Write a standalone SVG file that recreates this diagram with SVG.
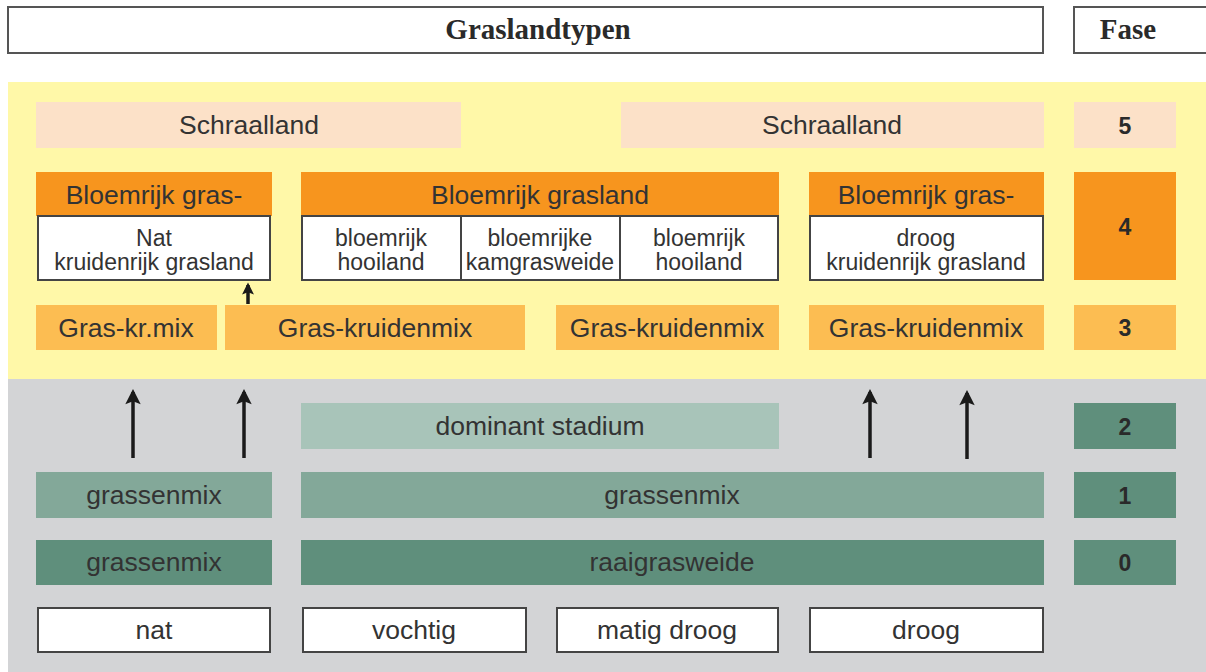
<svg xmlns="http://www.w3.org/2000/svg" width="1206" height="672" viewBox="0 0 1206 672">
  <defs>
    <!-- arrowhead pointing along +x, rotated onto the line direction -->
    <marker id="ah" viewBox="0 0 10 10" refX="8" refY="5" markerWidth="5.2" markerHeight="4.4" markerUnits="strokeWidth" orient="auto">
      <path d="M0,0 L10,5 L0,10 L2,5 Z" fill="#1a1a1a"/>
    </marker>
    <marker id="ahs" viewBox="0 0 10 10" refX="8" refY="5" markerWidth="3.8" markerHeight="3.4" markerUnits="strokeWidth" orient="auto">
      <path d="M0,0 L10,5 L0,10 L2,5 Z" fill="#1a1a1a"/>
    </marker>
  </defs>
  <style>
    .hdr { fill: #fff; stroke: #555; stroke-width: 2; }
    .hdrt { font-family: "Liberation Serif", serif; font-weight: bold; font-size: 29px; fill: #2a2a2a; text-anchor: middle; }
    .t { font-family: "Liberation Sans", Arial, sans-serif; font-size: 26.5px; fill: #333; text-anchor: middle; }
    .ts { font-family: "Liberation Sans", Arial, sans-serif; font-size: 23px; fill: #333; text-anchor: middle; }
    .num { font-family: "Liberation Sans", Arial, sans-serif; font-weight: bold; font-size: 23px; fill: #2a2a2a; text-anchor: middle; }
    .schraal { fill: #fce1c8; }
    .bloem { fill: #f7951e; }
    .mix { fill: #fcbd52; }
    .dom { fill: #a8c4b9; }
    .gm { fill: #83a899; }
    .dark { fill: #5f8f7c; }
    .wbox { fill: #fff; stroke: #444; stroke-width: 2; }
    .arrow { stroke: #1a1a1a; stroke-width: 3.5; fill: none; }
  </style>

  <!-- background zones -->
  <rect x="8" y="82" width="1198" height="297" fill="#fff8a8"/>
  <rect x="8" y="379" width="1198" height="293" fill="#d3d4d6"/>

  <!-- headers -->
  <g id="header-types">
    <rect class="hdr" x="8" y="7" width="1035" height="46"/>
    <text class="hdrt" x="538" y="39">Graslandtypen</text>
  </g>
  <g id="header-fase">
    <rect class="hdr" x="1074" y="7" width="140" height="46"/>
    <text class="hdrt" x="1128" y="39">Fase</text>
  </g>

  <!-- phase 5 -->
  <g id="schraal-left">
    <rect class="schraal" x="36" y="102" width="425" height="46"/>
    <text class="t" x="249" y="134">Schraalland</text>
  </g>
  <g id="schraal-right">
    <rect class="schraal" x="621" y="102" width="423" height="46"/>
    <text class="t" x="832" y="134">Schraalland</text>
  </g>
  <g id="fase-5">
    <rect class="schraal" x="1074" y="102" width="102" height="46"/>
    <text class="num" x="1125" y="134">5</text>
  </g>

  <!-- phase 4 -->
  <g id="bloem-nat">
    <rect class="bloem" x="36" y="172" width="236" height="44"/>
    <text class="t" x="154" y="204">Bloemrijk gras-</text>
    <rect class="wbox" x="38" y="216" width="232" height="64"/>
    <text class="ts" x="154" y="246">Nat</text>
    <text class="ts" x="154" y="270">kruidenrijk grasland</text>
  </g>
  <g id="bloem-mid">
    <rect class="bloem" x="301" y="172" width="478" height="44"/>
    <text class="t" x="540" y="204">Bloemrijk grasland</text>
    <rect class="wbox" x="302" y="216" width="159" height="64"/>
    <rect class="wbox" x="461" y="216" width="159" height="64"/>
    <rect class="wbox" x="620" y="216" width="158" height="64"/>
    <text class="ts" x="381" y="246">bloemrijk</text>
    <text class="ts" x="381" y="270">hooiland</text>
    <text class="ts" x="540" y="246">bloemrijke</text>
    <text class="ts" x="540" y="270">kamgrasweide</text>
    <text class="ts" x="699" y="246">bloemrijk</text>
    <text class="ts" x="699" y="270">hooiland</text>
  </g>
  <g id="bloem-droog">
    <rect class="bloem" x="809" y="172" width="235" height="44"/>
    <text class="t" x="926" y="204">Bloemrijk gras-</text>
    <rect class="wbox" x="810" y="216" width="233" height="64"/>
    <text class="ts" x="926" y="246">droog</text>
    <text class="ts" x="926" y="270">kruidenrijk grasland</text>
  </g>
  <g id="fase-4">
    <rect class="bloem" x="1074" y="172" width="102" height="108"/>
    <text class="num" x="1125" y="235">4</text>
  </g>

  <!-- phase 3 -->
  <g id="mix-1">
    <rect class="mix" x="36" y="305" width="181" height="45"/>
    <text class="t" x="126" y="337">Gras-kr.mix</text>
  </g>
  <g id="mix-2">
    <rect class="mix" x="225" y="305" width="300" height="45"/>
    <text class="t" x="375" y="337">Gras-kruidenmix</text>
  </g>
  <g id="mix-3">
    <rect class="mix" x="556" y="305" width="223" height="45"/>
    <text class="t" x="667" y="337">Gras-kruidenmix</text>
  </g>
  <g id="mix-4">
    <rect class="mix" x="809" y="305" width="235" height="45"/>
    <text class="t" x="926" y="337">Gras-kruidenmix</text>
  </g>
  <g id="fase-3">
    <rect class="mix" x="1074" y="305" width="102" height="45"/>
    <text class="num" x="1125" y="336">3</text>
  </g>

  <!-- phase 2 -->
  <g id="dominant">
    <rect class="dom" x="301" y="403" width="478" height="46"/>
    <text class="t" x="540" y="435">dominant stadium</text>
  </g>
  <g id="fase-2">
    <rect class="dark" x="1074" y="403" width="102" height="46"/>
    <text class="num" x="1125" y="435">2</text>
  </g>

  <!-- phase 1 -->
  <g id="gm1-left">
    <rect class="gm" x="36" y="472" width="236" height="46"/>
    <text class="t" x="154" y="504">grassenmix</text>
  </g>
  <g id="gm1-wide">
    <rect class="gm" x="301" y="472" width="743" height="46"/>
    <text class="t" x="672" y="504">grassenmix</text>
  </g>
  <g id="fase-1">
    <rect class="dark" x="1074" y="472" width="102" height="46"/>
    <text class="num" x="1125" y="504">1</text>
  </g>

  <!-- phase 0 -->
  <g id="gm0-left">
    <rect class="dark" x="36" y="540" width="236" height="45"/>
    <text class="t" x="154" y="571">grassenmix</text>
  </g>
  <g id="raaigras">
    <rect class="dark" x="301" y="540" width="743" height="45"/>
    <text class="t" x="672" y="571">raaigrasweide</text>
  </g>
  <g id="fase-0">
    <rect class="dark" x="1074" y="540" width="102" height="45"/>
    <text class="num" x="1125" y="571">0</text>
  </g>

  <!-- moisture classes -->
  <g id="nat">
    <rect class="wbox" x="38" y="608" width="232" height="44"/>
    <text class="t" x="154" y="639">nat</text>
  </g>
  <g id="vochtig">
    <rect class="wbox" x="303" y="608" width="223" height="44"/>
    <text class="t" x="414" y="639">vochtig</text>
  </g>
  <g id="matig-droog">
    <rect class="wbox" x="557" y="608" width="221" height="44"/>
    <text class="t" x="667" y="639">matig droog</text>
  </g>
  <g id="droog">
    <rect class="wbox" x="810" y="608" width="233" height="44"/>
    <text class="t" x="926" y="639">droog</text>
  </g>

  <!-- connectors -->
  <g id="connectors">
    <line class="arrow" x1="133" y1="458" x2="133" y2="392" marker-end="url(#ah)"/>
    <line class="arrow" x1="244" y1="458" x2="244" y2="392" marker-end="url(#ah)"/>
    <line class="arrow" x1="870" y1="458" x2="870" y2="392" marker-end="url(#ah)"/>
    <line class="arrow" x1="967" y1="459" x2="967" y2="393" marker-end="url(#ah)"/>
    <line class="arrow" x1="248" y1="304" x2="248" y2="285" marker-end="url(#ahs)"/>
  </g>
</svg>
